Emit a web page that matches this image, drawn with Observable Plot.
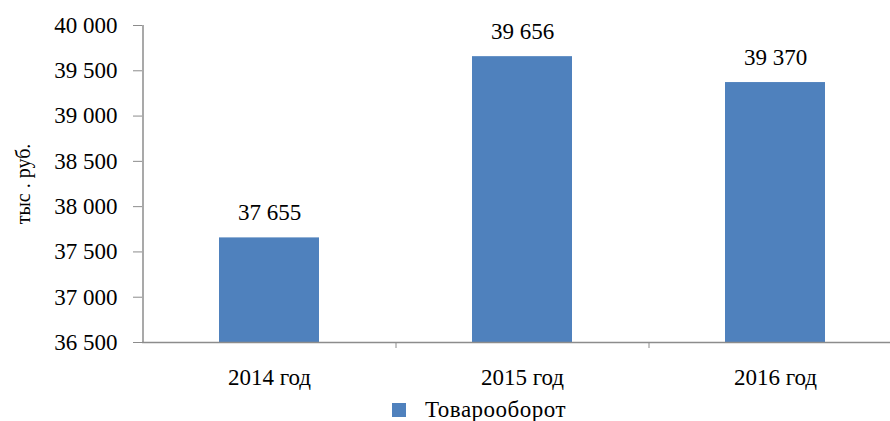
<!DOCTYPE html>
<html>
<head>
<meta charset="utf-8">
<script src="https://cdn.jsdelivr.net/npm/d3@7"></script>
<script src="https://cdn.jsdelivr.net/npm/@observablehq/plot@0.6"></script>
<style>
  html, body { margin: 0; padding: 0; background: #fff; }
  #chart { position: relative; width: 890px; height: 421px; font-family: "Liberation Serif", "Times New Roman", Times, "DejaVu Serif", serif; }
  #chart svg { display: block; }
  .legend { position: absolute; left: 392px; top: 398px; display: flex; align-items: center; font-size: 23px; color: #000; line-height: 24px; letter-spacing: 0.5px; }
  .legend .swatch { width: 14px; height: 14px; background: #4f81bd; margin-right: 19px; }
</style>
</head>
<body>
<div id="chart"></div>
<script>
// Товарооборот по годам, тыс. руб.
const years = ["2014 год", "2015 год", "2016 год"];
const turnover = [37655, 39656, 39370];
const yTicks = [36500, 37000, 37500, 38000, 38500, 39000, 39500, 40000];
const seriesName = "Товарооборот";
const yTitle = "тыс . руб.";

const data = years.map((year, i) => ({year, value: turnover[i]}));
const yMin = yTicks[0];
const yMax = yTicks[yTicks.length - 1];

const ru = d3.formatLocale({decimal: ",", thousands: " ", grouping: [3], currency: ["", ""]});
const fmt = ru.format(",d");

const barColor = "#4f81bd";
const axisColor = "#8c8c8c";
const font = "\"Liberation Serif\", \"Times New Roman\", Times, \"DejaVu Serif\", serif";
const halfStep = 126.5;

const plot = Plot.plot({
  width: 890,
  height: 395,
  marginLeft: 142,
  marginRight: 0,
  marginTop: 25,
  marginBottom: 53,
  style: {fontFamily: font, fontSize: "22px", color: "#000", background: "#fff"},
  x: {domain: years, range: [142, 901], paddingInner: 0.605, paddingOuter: 0.3025, label: null},
  y: {domain: [yMin, yMax], label: null},
  marks: [
    Plot.barY(data, {x: "year", y1: yMin, y2: "value", fill: barColor}),
    Plot.text(data, {x: "year", y: "value", text: d => fmt(d.value), dy: -25, fontSize: 23, fill: "#000"}),
    Plot.axisY({
      ticks: yTicks, tickFormat: fmt, tickSize: 9, tickPadding: 16,
      stroke: axisColor, fill: "#000", fontSize: 23,
      label: yTitle, labelAnchor: "center", labelArrow: "none", labelOffset: 127
    }),
    // vertical axis line on the left edge of the first category band
    Plot.ruleX(years.slice(0, 1), {x: d => d, dx: -halfStep, y1: yMin, y2: yMax, stroke: axisColor, strokeWidth: 1.5}),
    Plot.ruleY([yMin], {stroke: axisColor, strokeWidth: 1.5}),
    // small category separators below the baseline
    Plot.ruleX(years.slice(0, 2), {x: d => d, dx: halfStep, y1: yMin, y2: yMin, insetBottom: -6, stroke: axisColor}),
    Plot.axisX({tickSize: 0, tickPadding: 26, fontSize: 23, fill: "#000"})
  ]
});

const chart = document.getElementById("chart");
chart.appendChild(plot);

plot.querySelectorAll("[aria-label='y-axis label'] text").forEach(t => t.setAttribute("font-size", 20));

const legend = document.createElement("div");
legend.className = "legend";
legend.innerHTML = `<span class="swatch"></span><span>${seriesName}</span>`;
chart.appendChild(legend);
</script>
</body>
</html>
